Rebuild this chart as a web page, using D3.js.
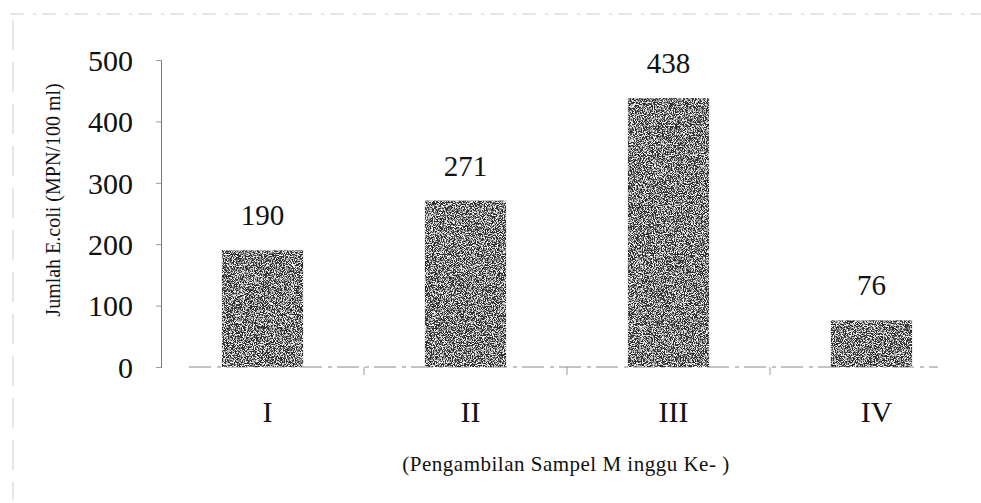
<!DOCTYPE html>
<html><head><meta charset="utf-8">
<script src="https://cdn.jsdelivr.net/npm/d3@7"></script>
<style>body{margin:0;background:#fff}svg{display:block}text{font-family:"Liberation Serif","Times New Roman",serif;fill:#111}</style>
</head><body>
<script>
const categories = ["I","II","III","IV"];
const values = [190, 271, 438, 76];
const yTicks = [0,100,200,300,400,500];
const yTitle = "Jumlah E.coli (MPN/100 ml)";
const xTitle = "(Pengambilan Sampel M inggu Ke- )";

const W = 981, H = 503;
const svg = d3.select("body").append("svg").attr("width", W).attr("height", H);

const defs = svg.append("defs");
const f = defs.append("filter").attr("id","grain").attr("x",0).attr("y",0).attr("width","100%").attr("height","100%");
f.append("feTurbulence").attr("type","fractalNoise").attr("baseFrequency","1.1").attr("numOctaves",2).attr("seed",5).attr("result","noise");
f.append("feColorMatrix").attr("in","noise").attr("type","matrix")
 .attr("values","0 0 0 0 1  0 0 0 0 1  0 0 0 0 1  4.5 0 0 0 -2.05").attr("result","dots");
f.append("feComposite").attr("in","dots").attr("in2","SourceGraphic").attr("operator","in").attr("result","d2");
f.append("feMerge").selectAll("feMergeNode").data(["SourceGraphic","d2"]).join("feMergeNode").attr("in",d=>d);

const x0 = 161, x1 = 973, yTop = 60, yBot = 367;
const x = d3.scaleBand().domain(categories).range([x0, x1]).paddingInner(0.6).paddingOuter(0.3);
const y = d3.scaleLinear().domain([0, 500]).range([yBot, yTop]);

// scan artifacts
svg.append("line").attr("x1",10).attr("x2",981).attr("y1",14).attr("y2",14)
  .attr("stroke","#ccc").attr("stroke-width",1).attr("stroke-dasharray","14 9 3 6");
svg.append("line").attr("x1",13).attr("x2",13).attr("y1",20).attr("y2",500)
  .attr("stroke","#cfcfcf").attr("stroke-width",1).attr("stroke-dasharray","30 12");

// y axis
const ya = svg.append("g").attr("transform",`translate(${x0},0)`)
  .call(d3.axisLeft(y).tickValues(yTicks).tickSize(5).tickPadding(23));
ya.select(".domain").attr("stroke","#777");
ya.selectAll(".tick line").attr("stroke","#999");
ya.selectAll(".tick text").style("font-size","30px").attr("fill","#111").attr("dy","0.34em");

// x baseline
svg.append("line").attr("x1",x0+28).attr("x2",x1-35).attr("y1",yBot).attr("y2",yBot)
  .attr("stroke","#888").attr("stroke-width",1).attr("stroke-dasharray","22 6 4 5");
// x axis labels and ticks between categories
const xa = svg.append("g").attr("transform",`translate(5,${yBot})`)
  .call(d3.axisBottom(x).tickSize(0).tickPadding(34));
xa.select(".domain").remove();
xa.selectAll(".tick text").style("font-size","30px").attr("fill","#111");
const step = x.step();
svg.append("g").selectAll("line").data(categories.slice(1)).join("line")
  .attr("x1",d=>x(d)-step*0.3).attr("x2",d=>x(d)-step*0.3)
  .attr("y1",yBot).attr("y2",yBot+8).attr("stroke","#999");

// bars
svg.append("g").selectAll("rect").data(values).join("rect")
  .attr("x",(d,i)=>x(categories[i])).attr("width",x.bandwidth())
  .attr("y",d=>y(d)).attr("height",d=>yBot-y(d))
  .attr("fill","#2e2e2e").attr("filter","url(#grain)");

// value labels
svg.append("g").selectAll("text").data(values).join("text")
  .attr("x",(d,i)=>x(categories[i])+x.bandwidth()/2).attr("y",d=>y(d)-25)
  .attr("text-anchor","middle").style("font-size","29px").text(d=>d);

// titles
svg.append("text").attr("transform",`translate(60,200) rotate(-90)`)
  .attr("text-anchor","middle").style("font-size","20px").text(yTitle);
svg.append("text").attr("x",566).attr("y",471).attr("text-anchor","middle")
  .style("font-size","21px").style("letter-spacing","0.5px").text(xTitle);
</script>
</body></html>
